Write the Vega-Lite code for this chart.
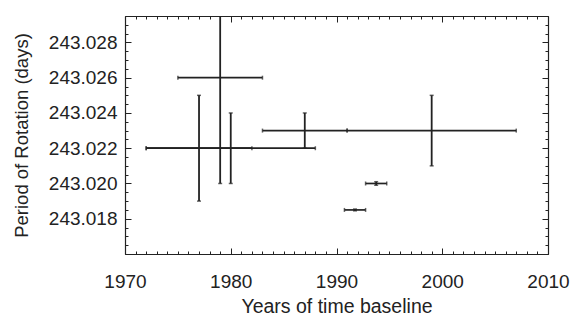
{
  "$schema": "https://vega.github.io/schema/vega-lite/v6.json",
  "width": 423,
  "height": 238,
  "autosize": "none",
  "padding": {"left": 125, "top": 16, "right": 24, "bottom": 70},
  "background": "white",
  "config": {
    "view": {"stroke": null},
    "axis": {"labelFont": "Liberation Sans", "titleFont": "Liberation Sans", "labelColor": "#222", "titleColor": "#222", "domainColor": "#222", "tickColor": "#222", "grid": false, "labelFontSize": 19, "titleFontSize": 19.5, "titleFontWeight": "normal", "domainWidth": 1.2, "tickWidth": 1, "labelFlush": false, "labelOverlap": false}
  },
  "data": {
    "values": [
      {"x": 1977, "xlo": 1972, "xhi": 1982, "y": 243.022, "ylo": 243.019, "yhi": 243.025},
      {"x": 1979, "xlo": 1975, "xhi": 1983, "y": 243.026, "ylo": 243.020, "yhi": 243.032},
      {"x": 1980, "xlo": 1972, "xhi": 1988, "y": 243.022, "ylo": 243.020, "yhi": 243.024},
      {"x": 1987, "xlo": 1983, "xhi": 1991, "y": 243.023, "ylo": 243.022, "yhi": 243.024},
      {"x": 1999, "xlo": 1991, "xhi": 2007, "y": 243.023, "ylo": 243.021, "yhi": 243.025},
      {"x": 1993.75, "xlo": 1992.75, "xhi": 1994.75, "y": 243.020, "ylo": 243.0199, "yhi": 243.0201},
      {"x": 1991.75, "xlo": 1990.75, "xhi": 1992.75, "y": 243.0185, "ylo": 243.01845, "yhi": 243.01855}
    ]
  },
  "resolve": {"axis": {"x": "independent", "y": "independent"}},
  "layer": [
    {
      "mark": {"type": "rule", "color": "#222", "strokeWidth": 1.7, "clip": true},
      "encoding": {
        "x": {"field": "xlo", "type": "quantitative", "scale": {"domain": [1970, 2010], "nice": false, "zero": false},
          "axis": {"orient": "bottom", "title": "Years of time baseline", "values": [1970, 1980, 1990, 2000, 2010], "format": "d", "ticks": false, "labelPadding": 18.5, "titlePadding": 5.5, "domain": true}},
        "x2": {"field": "xhi"},
        "y": {"field": "y", "type": "quantitative", "scale": {"domain": [243.016, 243.0295], "nice": false, "zero": false},
          "axis": {"orient": "left", "title": "Period of Rotation (days)", "titleFontSize": 18.5, "values": [243.018, 243.02, 243.022, 243.024, 243.026, 243.028], "format": ".3f", "ticks": false, "labelPadding": 8, "titlePadding": 17, "domain": true}}
      }
    },
    {
      "mark": {"type": "rule", "color": "#222", "strokeWidth": 1.8, "clip": true},
      "encoding": {
        "x": {"field": "x", "type": "quantitative", "scale": {"domain": [1970, 2010], "nice": false, "zero": false},
          "axis": {"orient": "bottom", "title": null, "values": [1970, 1980, 1990, 2000, 2010], "labels": false, "tickSize": -6, "domain": false}},
        "y": {"field": "ylo", "type": "quantitative", "scale": {"domain": [243.016, 243.0295], "nice": false, "zero": false},
          "axis": {"orient": "left", "title": null, "values": [243.018, 243.02, 243.022, 243.024, 243.026, 243.028], "labels": false, "tickSize": -6, "domain": false}},
        "y2": {"field": "yhi"}
      }
    },
    {
      "mark": {"type": "tick", "orient": "vertical", "color": "#222", "size": 4, "thickness": 1.5, "clip": true},
      "encoding": {
        "x": {"field": "xlo", "type": "quantitative", "scale": {"domain": [1970, 2010], "nice": false, "zero": false},
          "axis": {"orient": "bottom", "title": null, "values": [1970,1971,1972,1973,1974,1975,1976,1977,1978,1979,1980,1981,1982,1983,1984,1985,1986,1987,1988,1989,1990,1991,1992,1993,1994,1995,1996,1997,1998,1999,2000,2001,2002,2003,2004,2005,2006,2007,2008,2009,2010], "labels": false, "tickSize": -3, "domain": false}},
        "y": {"field": "y", "type": "quantitative", "scale": {"domain": [243.016, 243.0295], "nice": false, "zero": false},
          "axis": {"orient": "left", "title": null, "values": [243.016, 243.0165, 243.017, 243.0175, 243.018, 243.0185, 243.019, 243.0195, 243.02, 243.0205, 243.021, 243.0215, 243.022, 243.0225, 243.023, 243.0235, 243.024, 243.0245, 243.025, 243.0255, 243.026, 243.0265, 243.027, 243.0275, 243.028, 243.0285, 243.029], "labels": false, "tickSize": -3, "domain": false}}
      }
    },
    {
      "mark": {"type": "tick", "orient": "vertical", "color": "#222", "size": 4, "thickness": 1.5, "clip": true},
      "encoding": {
        "x": {"field": "xhi", "type": "quantitative", "scale": {"domain": [1970, 2010], "nice": false, "zero": false},
          "axis": {"orient": "top", "title": null, "values": [1970, 1980, 1990, 2000, 2010], "labels": false, "tickSize": -6, "domain": true}},
        "y": {"field": "y", "type": "quantitative", "scale": {"domain": [243.016, 243.0295], "nice": false, "zero": false},
          "axis": {"orient": "right", "title": null, "values": [243.018, 243.02, 243.022, 243.024, 243.026, 243.028], "labels": false, "tickSize": -6, "domain": true}}
      }
    },
    {
      "mark": {"type": "tick", "orient": "horizontal", "color": "#222", "size": 4, "thickness": 1.5, "clip": true},
      "encoding": {
        "x": {"field": "x", "type": "quantitative", "scale": {"domain": [1970, 2010], "nice": false, "zero": false},
          "axis": {"orient": "top", "title": null, "values": [1970,1971,1972,1973,1974,1975,1976,1977,1978,1979,1980,1981,1982,1983,1984,1985,1986,1987,1988,1989,1990,1991,1992,1993,1994,1995,1996,1997,1998,1999,2000,2001,2002,2003,2004,2005,2006,2007,2008,2009,2010], "labels": false, "tickSize": -3, "domain": false}},
        "y": {"field": "ylo", "type": "quantitative", "scale": {"domain": [243.016, 243.0295], "nice": false, "zero": false},
          "axis": {"orient": "right", "title": null, "values": [243.016, 243.0165, 243.017, 243.0175, 243.018, 243.0185, 243.019, 243.0195, 243.02, 243.0205, 243.021, 243.0215, 243.022, 243.0225, 243.023, 243.0235, 243.024, 243.0245, 243.025, 243.0255, 243.026, 243.0265, 243.027, 243.0275, 243.028, 243.0285, 243.029], "labels": false, "tickSize": -3, "domain": false}}
      }
    },
    {
      "mark": {"type": "tick", "orient": "horizontal", "color": "#222", "size": 4, "thickness": 1.5, "clip": true},
      "encoding": {
        "x": {"field": "x", "type": "quantitative", "scale": {"domain": [1970, 2010], "nice": false, "zero": false}, "axis": null},
        "y": {"field": "yhi", "type": "quantitative", "scale": {"domain": [243.016, 243.0295], "nice": false, "zero": false}, "axis": null}
      }
    }
  ]
}
